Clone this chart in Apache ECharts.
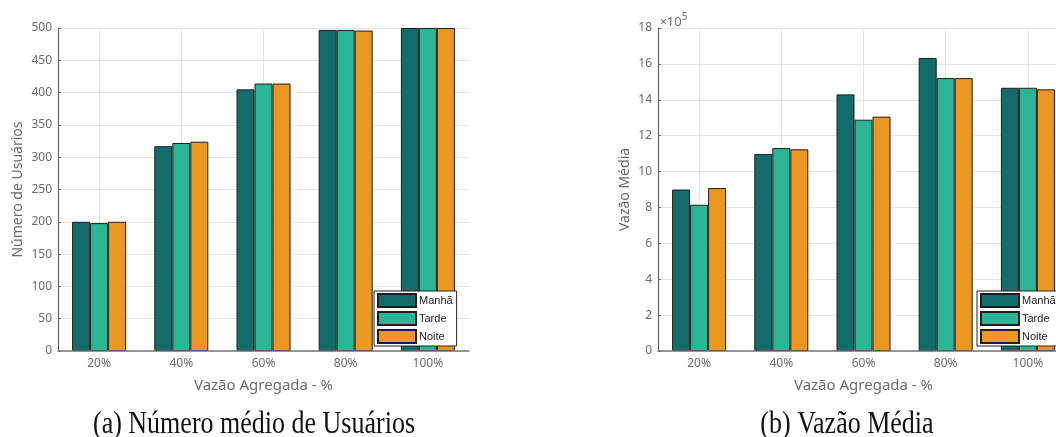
<!DOCTYPE html>
<html>
<head>
<meta charset="utf-8">
<script src="https://cdn.jsdelivr.net/npm/echarts@6/dist/echarts.min.js"></script>
<style>
html,body{margin:0;padding:0;background:#fff;}
#c{width:1056px;height:437px;}
</style>
</head>
<body>
<div id="c"></div>
<script>
const categories = ['20%', '40%', '60%', '80%', '100%'];
const seriesNames = ['Manhã', 'Tarde', 'Noite'];
// (a) Número médio de Usuários
const usersManha = [200, 317, 405, 497, 500];
const usersTarde = [198, 322, 414, 497, 500];
const usersNoite = [200, 324, 414, 496, 500];
// (b) Vazão Média (raw values, axis shown in units of 10^5)
const vazaoManha = [900000, 1098000, 1430000, 1633000, 1467000];
const vazaoTarde = [815000, 1131000, 1289000, 1521000, 1467000];
const vazaoNoite = [908000, 1124000, 1306000, 1521000, 1458000];
const leftTicks = [0, 50, 100, 150, 200, 250, 300, 350, 400, 450, 500];
const rightTicks = [0, 2, 4, 6, 8, 10, 12, 14, 16, 18];
const colors = ['#136c6a', '#2bb596', '#eb9823'];

// helper axis: half-category slots so vertical grid lines fall on category centres
const halfSlots = [];
for (let i = 0; i <= categories.length * 2; i++) halfSlots.push(String(i));

const chart = echarts.init(document.getElementById('c'), null, {renderer: 'canvas'});
const tickFont = {color: '#6b6b6b', fontSize: 12, fontFamily: 'Noto Sans'};
const nameFontX = {color: '#6b6b6b', fontSize: 15, fontFamily: 'Noto Sans'};
const nameFontY = {color: '#6b6b6b', fontSize: 14, fontFamily: 'Noto Sans'};

function xAx(gi) {
  return {
    type: 'category', gridIndex: gi, data: categories, boundaryGap: true,
    name: 'Vazão Agregada - %', nameLocation: 'middle', nameGap: 27, nameTextStyle: nameFontX,
    axisLine: {show: true, lineStyle: {color: '#777', width: 1.5}},
    axisTick: {show: false},
    axisLabel: Object.assign({margin: 7}, tickFont),
    splitLine: {show: false},
    z: 5
  };
}
function xGridAx(gi) {
  return {
    type: 'category', gridIndex: gi, data: halfSlots, boundaryGap: false,
    axisLine: {show: false}, axisTick: {show: false}, axisLabel: {show: false},
    splitLine: {show: true, interval: (i) => i % 2 === 1, lineStyle: {color: '#e5e5e5', width: 1}}
  };
}
function yAx(gi, max, interval, name, gap, fmt) {
  return {
    type: 'value', gridIndex: gi, min: 0, max: max, interval: interval,
    name: name, nameLocation: 'middle', nameGap: gap, nameTextStyle: nameFontY,
    axisLine: {show: true, lineStyle: {color: '#666', width: 1.2}},
    axisTick: {show: true, inside: true, length: 3, lineStyle: {color: '#666'}},
    axisLabel: Object.assign({margin: 6, formatter: fmt}, tickFont),
    splitLine: {show: true, lineStyle: {color: '#e5e5e5', width: 1}}
  };
}
function bar(name, data, gi, ci) {
  return {
    name: name, type: 'bar', xAxisIndex: gi, yAxisIndex: gi, data: data,
    barWidth: 18, barGap: '0%',
    itemStyle: {color: colors[ci], borderColor: '#1e1e1e', borderWidth: 1}
  };
}
function leg(left) {
  return {
    data: seriesNames, orient: 'vertical', left: left, top: 291,
    backgroundColor: '#fff', borderColor: '#222', borderWidth: 1,
    padding: [2, 4, 2, 3], itemWidth: 38, itemHeight: 13, itemGap: 3,
    icon: 'rect', selectedMode: false,
    textStyle: {color: '#222', fontSize: 11, lineHeight: 13, fontFamily: 'Liberation Sans', padding: [0, 0, 0, -2]}
  };
}

chart.setOption({
  animation: false,
  backgroundColor: '#fff',
  grid: [
    {left: 58, top: 28, width: 411, bottom: 86, containLabel: false, outerBoundsMode: 'none'},
    {left: 658, top: 28, width: 411, bottom: 86, containLabel: false, outerBoundsMode: 'none'}
  ],
  xAxis: [xAx(0), xAx(1), xGridAx(0), xGridAx(1)],
  yAxis: [
    yAx(0, 500, 50, 'Número de Usuários', 33, v => String(v)),
    yAx(1, 1800000, 200000, 'Vazão Média', 26, v => String(Math.round(v / 100000)))
  ],
  legend: [leg(374), leg(977)],
  series: [
    bar(seriesNames[0], usersManha, 0, 0),
    bar(seriesNames[1], usersTarde, 0, 1),
    bar(seriesNames[2], usersNoite, 0, 2),
    bar(seriesNames[0], vazaoManha, 1, 0),
    bar(seriesNames[1], vazaoTarde, 1, 1),
    bar(seriesNames[2], vazaoNoite, 1, 2)
  ],
  graphic: [
    {type: 'text', left: 660, top: 12, style: {
      text: '{m|×}{b|10}{s|5}',
      rich: {
        m: {fontSize: 12, fontFamily: 'Noto Sans', fill: '#6b6b6b', verticalAlign: 'bottom'},
        b: {fontSize: 13, fontFamily: 'Noto Sans', fill: '#6b6b6b', verticalAlign: 'bottom'},
        s: {fontSize: 10, fontFamily: 'Noto Sans', fill: '#6b6b6b', verticalAlign: 'top', padding: [0, 0, 7, 0]}
      }
    }},
    {type: 'text', x: 254, y: 425, scaleY: 1.2, style: {
      text: '(a) Número médio de Usuários', fontSize: 26, fontFamily: 'Liberation Serif',
      fill: '#111', textAlign: 'center', textVerticalAlign: 'middle'
    }},
    {type: 'text', x: 847, y: 425, scaleY: 1.2, style: {
      text: '(b) Vazão Média', fontSize: 26, fontFamily: 'Liberation Serif',
      fill: '#111', textAlign: 'center', textVerticalAlign: 'middle'
    }}
  ]
});
</script>
</body>
</html>
